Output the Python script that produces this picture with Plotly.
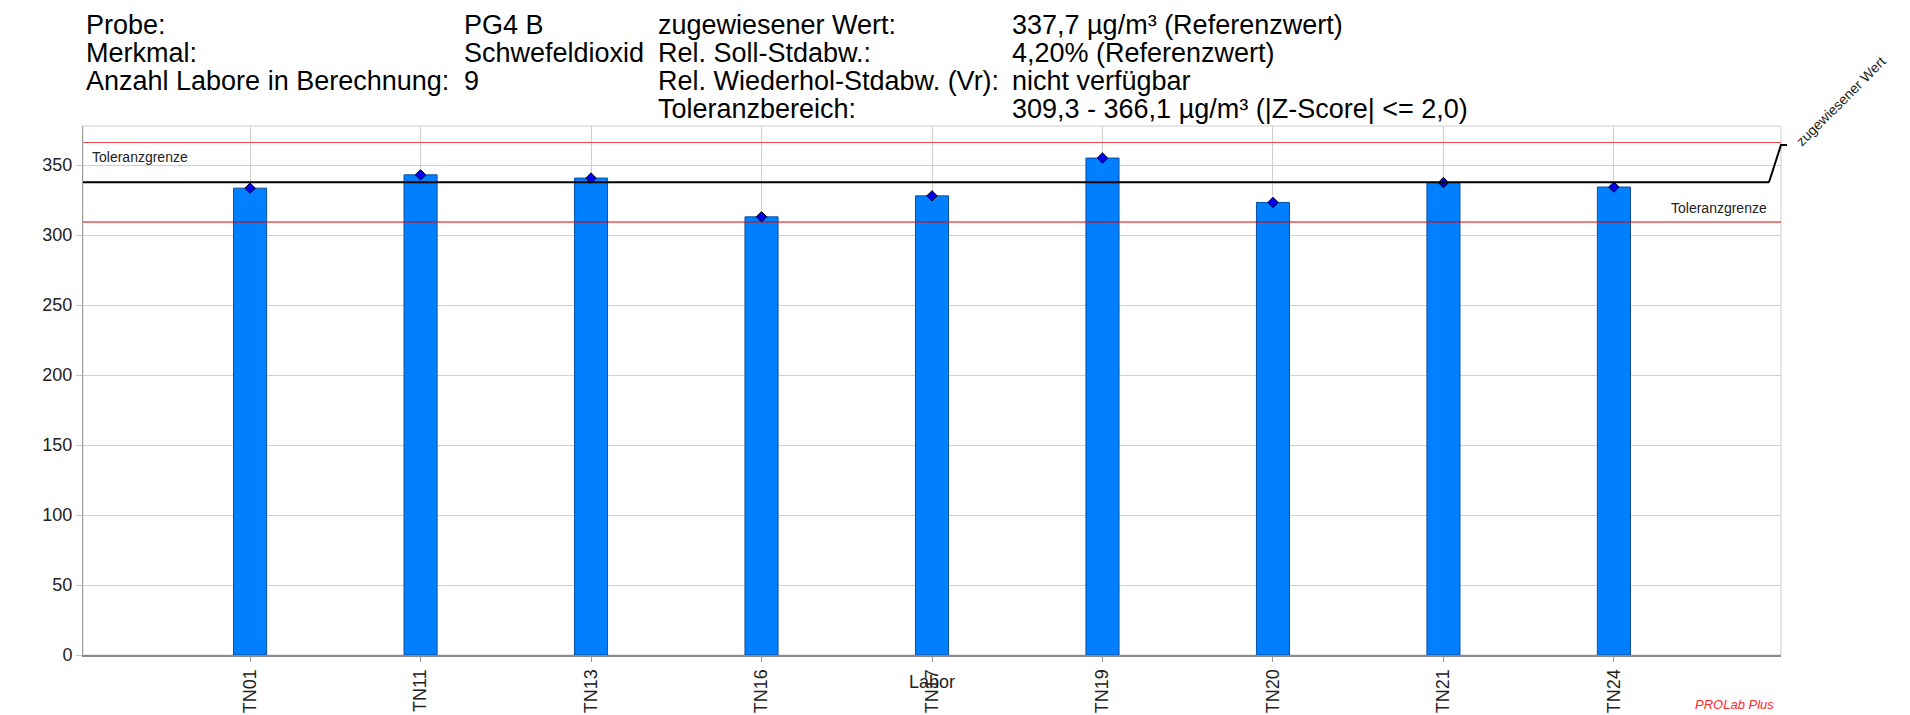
import plotly.graph_objects as go

labore = ["TN01", "TN11", "TN13", "TN16", "TN17", "TN19", "TN20", "TN21", "TN24"]
werte = [333.5, 343.0, 340.7, 313.0, 328.0, 355.0, 323.3, 337.5, 334.3]

zugewiesen = 337.7
tol_unten = 309.3
tol_oben = 366.1

kopf_spalte1 = ["Probe:", "Merkmal:", "Anzahl Labore in Berechnung:", ""]
kopf_spalte2 = ["PG4 B", "Schwefeldioxid", "9", ""]
kopf_spalte3 = ["zugewiesener Wert:", "Rel. Soll-Stdabw.:", "Rel. Wiederhol-Stdabw. (Vr):", "Toleranzbereich:"]
kopf_spalte4 = ["337,7 µg/m³ (Referenzwert)", "4,20% (Referenzwert)", "nicht verfügbar",
                "309,3 - 366,1 µg/m³ (|Z-Score| <= 2,0)"]

# page body has an 8px margin, so the figure is drawn 8px smaller and offset
OFF = 8
W, H = 1910 - OFF, 715 - OFF
L, R, T, B = 83 - OFF, 129, 126 - OFF, 60
pw, ph = W - L - R, H - T - B
Y_MAX = 377.9

def px_x(px):
    return (px - OFF - L) / pw

def px_y(py):
    return (H - B - (py - OFF)) / ph

FONT = "Liberation Sans, Arial, sans-serif"

fig = go.Figure()
fig.add_trace(go.Bar(
    x=labore, y=werte, width=0.194,
    marker=dict(color="#007fff", line=dict(color="#0a4f9e", width=1)),
    hoverinfo="x+y",
))
fig.add_trace(go.Scatter(
    x=labore, y=werte, mode="markers",
    marker=dict(symbol="diamond", size=8, color="#0000ee", line=dict(color="black", width=1)),
    hoverinfo="skip",
))

shapes = [
    dict(type="rect", xref="paper", yref="paper", x0=0, x1=1, y0=0, y1=1,
         line=dict(color="#cfcfcf", width=1), layer="below"),
    dict(type="line", xref="paper", yref="y", x0=0, x1=1, y0=tol_oben, y1=tol_oben,
         line=dict(color="#f04848", width=1.2)),
    dict(type="line", xref="paper", yref="y", x0=0, x1=1, y0=tol_unten, y1=tol_unten,
         line=dict(color="#e00000", width=1)),
    dict(type="line", xref="paper", yref="y", x0=0, x1=px_x(1769), y0=zugewiesen, y1=zugewiesen,
         line=dict(color="black", width=2)),
    dict(type="path", xref="paper", yref="paper",
         path="M {:.5f},{:.5f} L {:.5f},{:.5f} L {:.5f},{:.5f}".format(
             px_x(1769), zugewiesen / Y_MAX,
             px_x(1781), px_y(145), px_x(1787), px_y(145)),
         line=dict(color="black", width=2)),
]

annotations = []
kopf_y = [25, 53, 81, 109]
for spalte, xpx in [(kopf_spalte1, 84), (kopf_spalte2, 462), (kopf_spalte3, 656), (kopf_spalte4, 1010)]:
    for txt, ypx in zip(spalte, kopf_y):
        if not txt:
            continue
        annotations.append(dict(
            text=txt, xref="paper", yref="paper", x=px_x(xpx), y=px_y(ypx),
            xanchor="left", yanchor="middle", showarrow=False,
            font=dict(family=FONT, size=27, color="black"),
        ))

annotations += [
    dict(text="Toleranzgrenze", xref="paper", yref="y", x=px_x(90), y=tol_oben,
         xanchor="left", yanchor="top", yshift=-4, showarrow=False,
         font=dict(family=FONT, size=14, color="#222")),
    dict(text="Toleranzgrenze", xref="paper", yref="y", x=px_x(1769), y=tol_unten,
         xanchor="right", yanchor="bottom", yshift=4, showarrow=False,
         font=dict(family=FONT, size=14, color="#222")),
    dict(text="zugewiesener Wert", xref="paper", yref="paper", x=px_x(1841), y=px_y(101),
         xanchor="center", yanchor="middle", textangle=-45, showarrow=False,
         font=dict(family=FONT, size=14, color="#222")),
    dict(text="Labor", xref="paper", yref="paper", x=px_x(932), y=px_y(682),
         xanchor="center", yanchor="middle", showarrow=False,
         font=dict(family=FONT, size=18, color="#222")),
    dict(text="PROLab Plus", xref="paper", yref="paper", x=px_x(1776), y=px_y(704),
         xanchor="right", yanchor="middle", showarrow=False,
         font=dict(family=FONT, size=13, color="#ff2a2a", style="italic")),
]

fig.update_layout(
    width=W, height=H,
    margin=dict(l=L, r=R, t=T, b=B, pad=0),
    paper_bgcolor="white", plot_bgcolor="white",
    showlegend=False,
    shapes=shapes, annotations=annotations,
    font=dict(family=FONT, color="#222"),
    xaxis=dict(
        type="category", range=[-0.98, 8.98],
        tickangle=-90, tickfont=dict(size=18, color="#222"),
        ticks="outside", ticklen=5, tickcolor="#999",
        showgrid=True, gridcolor="#d0d0d0", gridwidth=1,
        showline=True, linecolor="#8a8a8a", linewidth=2,
        zeroline=False, fixedrange=True, automargin=False,
    ),
    yaxis=dict(
        range=[0, Y_MAX], dtick=50, tick0=0,
        tickfont=dict(size=18, color="#222"),
        ticks="outside", ticklen=6, tickcolor="#c8c8c8",
        showgrid=True, gridcolor="#d0d0d0", gridwidth=1,
        showline=True, linecolor="#a0a0a0", linewidth=1,
        zeroline=False, fixedrange=True, automargin=False,
    ),
)

fig.write_html("out.html")
